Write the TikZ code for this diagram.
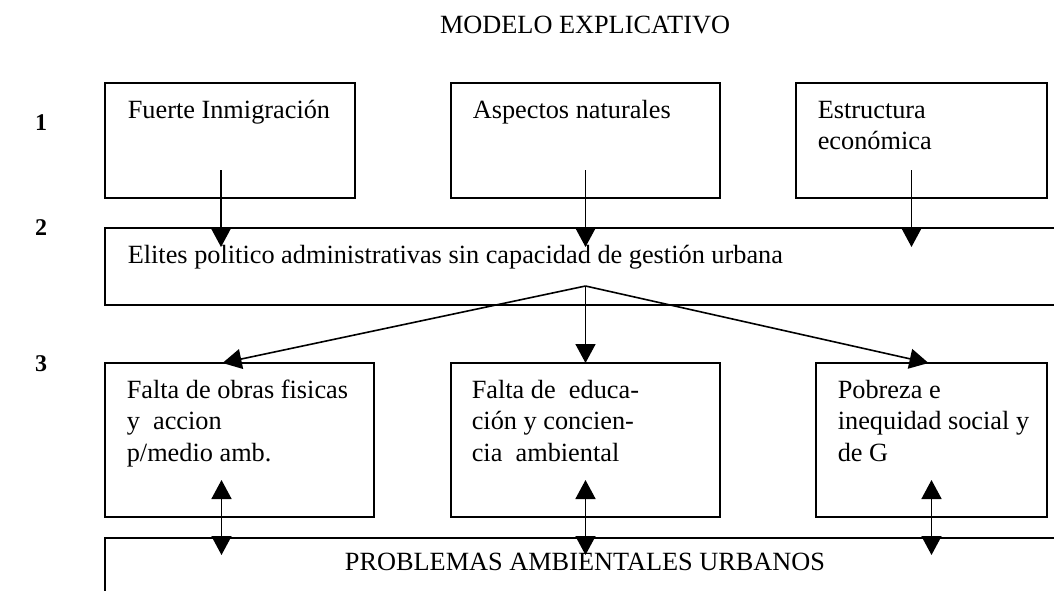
\documentclass[tikz,border=0pt]{standalone}
\usepackage{fontspec}
\setmainfont{Liberation Serif}
\usetikzlibrary{positioning, arrows.meta, calc}

\newcommand{\lines}[1]{\begin{tabular}[t]{@{}l@{}}#1\end{tabular}}

\begin{document}
\begin{tikzpicture}[x = 1pt, y = -1pt, line width = 1.6pt,
    box/.style = { draw, shape = rectangle, inner sep = 0pt, outer sep = 0pt, anchor = north west },
    txt/.style = { inner sep = 0pt, anchor = base west, font = \fontsize{26.3}{31.7}\selectfont },
    num/.style = { inner sep = 0pt, font = \fontsize{24}{28}\selectfont\bfseries },
    arr/.style = { -{Triangle[length = 19pt, width = 20pt]} },
    dbl/.style = { {Triangle[length = 19pt, width = 20pt]}-{Triangle[length = 19pt, width = 20pt]} }]
  \useasboundingbox (0,0) rectangle (1054,591);
  \clip (0,0) rectangle (1054,591);

  \node [txt, anchor = base] (title) at (585,34) { MODELO EXPLICATIVO };

  \node [num] (n1) at (41,123) { 1 };
  \node [num] (n2) at (41,228) { 2 };
  \node [num] (n3) at (41,364) { 3 };

  \node [box, minimum width = 250pt, minimum height = 115pt] (inm) at (105,83) {};
  \node [box, minimum width = 269pt, minimum height = 115pt] (nat) at (451,83) {};
  \node [box, minimum width = 251pt, minimum height = 115pt] (eco) at (796,83) {};
  \node [box, minimum width = 1000pt, minimum height = 77pt] (elite) at (105,228) {};
  \node [box, minimum width = 269pt, minimum height = 154pt] (obras) at (105,363) {};
  \node [box, minimum width = 269pt, minimum height = 154pt] (edu) at (451,363) {};
  \node [box, minimum width = 231pt, minimum height = 154pt] (pob) at (816,363) {};
  \node [box, minimum width = 1000pt, minimum height = 100pt] (prob) at (105,538) {};

  \node [txt] (t-inm) at ([shift = {(22,35)}]inm.north west) { Fuerte Inmigración };
  \node [txt] (t-nat) at ([shift = {(21,35)}]nat.north west) { Aspectos naturales };
  \node [txt] (t-eco) at ([shift = {(21,35)}]eco.north west) { \lines{Estructura \\ económica} };
  \node [txt] (t-elite) at ([shift = {(22,35)}]elite.north west) { Elites politico administrativas sin capacidad de gestión urbana };
  \node [txt] (t-obras) at ([shift = {(21,35)}]obras.north west) { \lines{Falta de obras fisicas \\ y\ \ accion \\ p/medio amb.} };
  \node [txt] (t-edu) at ([shift = {(20,35)}]edu.north west) { \lines{Falta de\ \ educa- \\ ción y concien- \\ cia\ \ ambiental} };
  \node [txt] (t-pob) at ([shift = {(21,35)}]pob.north west) { \lines{Pobreza e \\ inequidad social y \\ de G} };
  \node [txt, anchor = base] (t-prob) at ([shift = {(480,32)}]prob.north west) { PROBLEMAS AMBIENTALES URBANOS };

  \foreach \b/\dx in {inm/-9, nat/0, eco/-10} {
    \coordinate (s-\b) at ([xshift = \dx pt, yshift = 28pt]\b.south);
    \draw [arr] (s-\b) -- ($(s-\b |- elite.north) + (0,19)$);
  }

  \coordinate (fan) at ($(nat.south |- elite.south) + (0,-19)$);
  \draw [arr] (fan) -- ([xshift = -17pt]obras.north);
  \draw [arr] (fan) -- (edu.north);
  \draw [arr] (fan) -- ([xshift = -3pt]pob.north);

  \foreach \b/\dx in {obras/-18, edu/0, pob/0} {
    \coordinate (d-\b) at ([xshift = \dx pt, yshift = 37pt]\b.south);
    \draw [dbl] (d-\b) -- ($(d-\b |- prob.north) + (0,17)$);
  }
\end{tikzpicture}
\end{document}
